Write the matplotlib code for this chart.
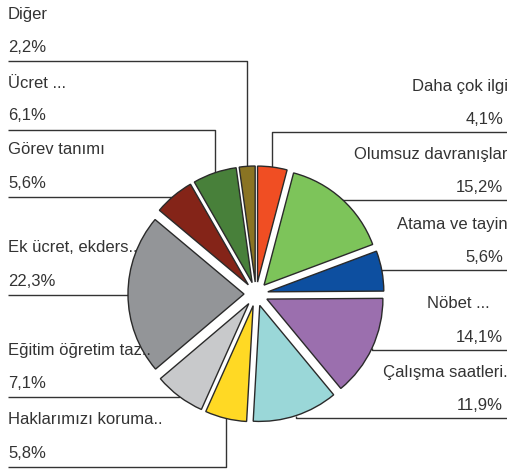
import numpy as np
import matplotlib
matplotlib.use("Agg")
import matplotlib.pyplot as plt

plt.rcParams['font.family'] = ['Liberation Sans', 'DejaVu Sans']

# clockwise from 12 o'clock
labels = ["Daha çok ilgi", "Olumsuz davranışlar", "Atama ve tayin", "Nöbet ...    ",
          "Çalışma saatleri.", "Haklarımızı koruma..", "Eğitim öğretim taz..",
          "Ek ücret, ekders..", "Görev tanımı", "Ücret ...", "Diğer"]
values = [4.1, 15.2, 5.6, 14.1, 11.9, 5.8, 7.1, 22.3, 5.6, 6.1, 2.2]
colors = ["#f04e23", "#7dc45a", "#0d4fa0", "#9b6fae", "#9ad7d8", "#ffd924",
          "#c8c9cb", "#939598", "#842418", "#48803a", "#8a7423"]

# label layout (image pixels): side and y of the underline
sides = ["R", "R", "R", "R", "R", "L", "L", "L", "L", "L", "L"]
line_y = [132, 200, 270, 350, 418, 467, 397, 295, 197, 130, 61]

W, H = 507, 470
fig = plt.figure(figsize=(W / 100, H / 100), dpi=100)
ax = fig.add_axes([0, 0, 1, 1])

cx, cy, R = 256, 294, 116
# explode is in data units (pixels here)
wedges, _ = ax.pie(values, colors=colors, startangle=90, counterclock=False,
                   center=(cx, H - cy), radius=R, explode=[12] * len(values),
                   wedgeprops=dict(edgecolor="#2a2a2a", linewidth=1.0), frame=False)

ink = "#333333"
for w, lab, v, side, ly in zip(wedges, labels, values, sides, line_y):
    mid = np.deg2rad((w.theta1 + w.theta2) / 2)
    ex = w.center[0] + w.r * np.cos(mid)
    ey = w.center[1] + w.r * np.sin(mid)
    y = H - ly
    pct = f"{v:.1f}%".replace(".", ",")
    if side == "L":
        ax.plot([8, ex, ex], [y, y, ey], color=ink, lw=1.0, solid_capstyle="butt", zorder=0)
        ax.text(8, y + 47, lab, ha="left", va="center", fontsize=12, color=ink)
        ax.text(8, y + 14, pct, ha="left", va="center", fontsize=12, color=ink)
    else:
        ax.plot([W, ex, ex], [y, y, ey], color=ink, lw=1.0, solid_capstyle="butt", zorder=0)
        ax.text(W + 1, y + 46, lab, ha="right", va="center", fontsize=12, color=ink)
        ax.text(W - 4, y + 13, pct, ha="right", va="center", fontsize=12, color=ink)

ax.set_xlim(0, W)
ax.set_ylim(0, H)
ax.set_aspect("equal")
ax.axis("off")

fig.savefig("out.png", dpi=100)
